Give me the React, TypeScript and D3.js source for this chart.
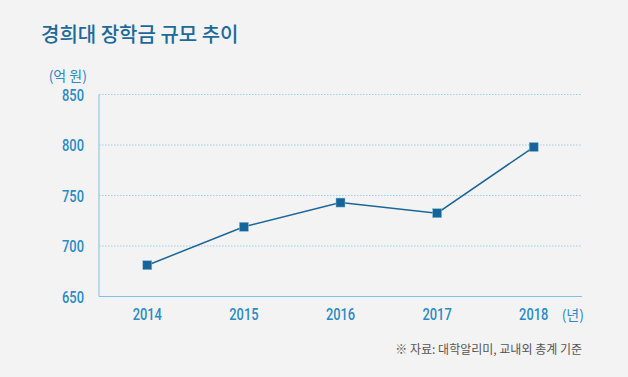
import React from "react";
import * as d3 from "d3";

const years = ["2014", "2015", "2016", "2017", "2018"];
const values = [681, 719, 743, 732.5, 798];
const yTicks = [650, 700, 750, 800, 850];
const title = "경희대 장학금 규모 추이";
const yUnit = "(억 원)";
const xUnit = "(년)";
const source = "※ 자료: 대학알리미, 교내외 총계 기준";

const W = 628;
const H = 377;
const NUM_FONT = "'Roboto', sans-serif";
const KR_FONT = "'Noto Sans CJK KR', 'Noto Sans', sans-serif";
const SX = 0.78;

function Num({ x, y, anchor, children }: { x: number; y: number; anchor: string; children: any }) {
  return (
    <text
      transform={`translate(${x},${y}) scale(${SX},1)`}
      textAnchor={anchor}
      fontFamily={NUM_FONT}
      fontWeight={500}
      fontSize={16.5}
      fill="#2a8ac4"
    >
      {children}
    </text>
  );
}

export default function App() {
  const x = d3.scalePoint<string>().domain(years).range([99, 582]).padding(0.5);
  const y = d3.scaleLinear().domain([650, 850]).range([296.5, 94.5]);
  const line = d3
    .line<number>()
    .x((_, i) => x(years[i]) as number)
    .y((d) => y(d));

  return (
    <svg
      width={W}
      height={H}
      style={{ position: "absolute", left: 0, top: 0, background: "#f3f3f3" }}
    >
      <rect x={0} y={0} width={W} height={H} fill="#f3f3f3" />
      <text
        x={41}
        y={42}
        fontFamily={KR_FONT}
        fontSize={20}
        fontWeight={500}
        fill="#1c6a9c"
      >
        {title}
      </text>
      <text
        x={87}
        y={81}
        textAnchor="end"
        fontFamily={KR_FONT}
        fontSize={14}
        fill="#2a8ac4"
      >
        {yUnit}
      </text>
      {yTicks.map((t) => (
        <g key={t}>
          {t !== 650 && (
            <line
              x1={99}
              x2={582}
              y1={y(t)}
              y2={y(t)}
              stroke="#9fcfe6"
              strokeWidth={1}
              strokeDasharray="1.5,1.5"
            />
          )}
          <Num x={84} y={y(t) + 6} anchor="end">
            {t}
          </Num>
        </g>
      ))}
      <line x1={99} x2={99} y1={y(850)} y2={y(650)} stroke="#7fc1e2" strokeWidth={1} />
      <line x1={99} x2={582} y1={y(650)} y2={y(650)} stroke="#7fc1e2" strokeWidth={1} />
      {years.map((yr) => (
        <Num key={yr} x={x(yr) as number} y={320} anchor="middle">
          {yr}
        </Num>
      ))}
      <text
        x={584}
        y={320}
        textAnchor="end"
        fontFamily={KR_FONT}
        fontSize={14}
        fill="#2a8ac4"
      >
        {xUnit}
      </text>
      <path d={line(values) || ""} fill="none" stroke="#1a6698" strokeWidth={1.5} />
      {values.map((v, i) => (
        <rect
          key={i}
          x={(x(years[i]) as number) - 4.5}
          y={y(v) - 4.5}
          width={9}
          height={9}
          fill="#15649a"
          stroke="#8fbbd6"
          strokeWidth={0.5}
        />
      ))}
      <text
        x={582}
        y={354}
        textAnchor="end"
        fontFamily={KR_FONT}
        fontSize={12}
        fill="#555555"
      >
        {source}
      </text>
    </svg>
  );
}
